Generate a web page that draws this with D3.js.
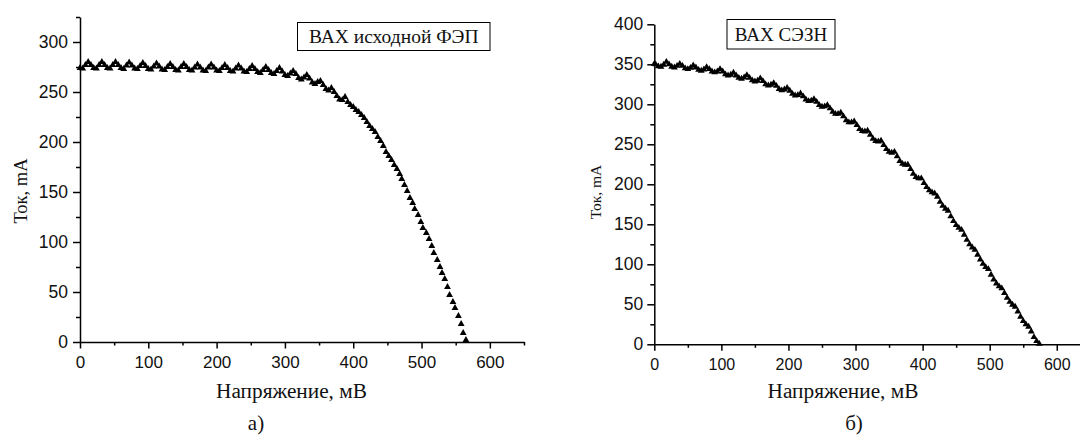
<!DOCTYPE html>
<html>
<head>
<meta charset="utf-8">
<script src="https://cdn.jsdelivr.net/npm/d3@7"></script>
<style>
  html, body { margin: 0; padding: 0; background: #fff; }
  svg { display: block; }
</style>
</head>
<body>
<svg id="chart" width="1080" height="437"></svg>
<script>
// ---- Data: I-V curves (voltage in mV, current in mA) ----
const leftVoltage = [
  0,4,8,12,16,20,24,28,32,36,40,44,48,52,56,60,64,68,72,76,80,84,88,92,96,
  100,104,108,112,116,120,124,128,132,136,140,144,148,152,156,160,164,168,172,176,180,184,188,192,196,
  200,204,208,212,216,220,224,228,232,236,240,244,248,252,256,260,264,268,272,276,280,284,288,292,296,
  300,304,308,312,316,320,324,328,332,336,340,344,348,352,356,360,364,368,372,376,380,384,388,
  392,396,400,404,408,412,416,420,424,428,432,436,440,444,448,452,456,460,464,468,
  471,475,479,483,487,490,495,499,502,507,511,515,518,523,527,530,534,538,541,546,549,554,558,561,565
];
const leftCurrent = [
  274,273.5,277,280,277, 274,273.5,277,280,277, 274,273.5,277,280,277,
  274,273,276.5,279.5,276.5, 273.5,273,276,279,276,
  273,272.5,275.5,278.5,275.5, 272.5,272,275,278,275, 272,271.5,275,278,275,
  272,271.5,274.5,277.5,274.5, 271.5,271,274.5,277.5,274.5,
  271.5,271,274,277,274, 271,270.5,273.5,276.5,273.5, 270.5,270,273,276,273,
  270,269,272,275,272, 269,268,271,274,270.5,
  267,266,268.5,271,268, 264,262.5,264.5,267,263.5, 259.5,258,260,261,257,
  253,251.5,254,250,246, 242.5,242,245,
  240,237,235,232,230,227,224,220,216,213,210,205,201,196,190,186,182,177,173,168,
  163,157,151,144,139,133,127,120,114,109,103,96,89,82,75,69,63,55,47,40,34,26,18,9,2
];

const rightVoltage = [
  0,2,6,10,14,18,22,26,30,34,38,42,46,50,54,58,62,66,70,74,78,82,86,90,94,98,
  102,106,110,114,118,122,126,130,134,138,142,146,150,154,158,162,166,170,174,178,182,186,190,194,198,
  202,206,210,214,218,222,226,230,234,238,242,246,250,254,258,262,266,270,274,278,282,286,290,294,298,
  302,306,310,314,318,322,326,330,334,338,342,346,350,354,358,362,366,370,374,378,382,386,390,394,398,
  402,406,410,414,418,422,426,430,434,438,442,446,450,454,458,462,466,470,474,478,482,486,490,494,498,
  502,506,510,514,518,522,526,530,534,538,542,546,550,554,558,562,566,570,574
];
const rightCurrent = [
  350.5,
  350,347.5,347,349.5,353, 350,347,346,348,350.5, 348,345,344,345.5,348.5,
  346,343,342,343.5,346.5, 344,341,340,341,344,
  341,337.5,336,337,339.5, 336,333,332,333.5,336.5, 333,330,328.5,329.5,332.5,
  329,325,323.5,324.5,326.5, 323,319,317.5,318.5,320.5,
  317,313,311,311.5,313.5, 310,306,304,304.5,306.5, 303,299,297,297.5,299,
  295,290.5,288,288,289.5, 285,280,277.5,277.5,278.5,
  274,269,266.5,266,267, 262,257,254,253.5,254.5, 249,244,240.5,239.5,240.5,
  235,229,225.5,224.5,224.5, 219,213,209,207.5,207.5,
  201.5,196.5,192.5,190,188.5, 184.5,178,173,169.5,167, 160,154,149,145.5,143,
  137,130.5,125,121,118, 112,106,100.5,96.5,94,
  87,81,76,72.5,70, 64,58,53,49.5,47, 41,34.5,29,25,22, 16,9,4,0.5
];

// ---- Axis ticks and texts ----
const xMajorTicks = [0, 100, 200, 300, 400, 500, 600];
const xMinorTicks = [50, 150, 250, 350, 450, 550, 650];
const leftYMajor = [0, 50, 100, 150, 200, 250, 300];
const leftYMinor = [25, 75, 125, 175, 225, 275, 325];
const rightYMajor = [0, 50, 100, 150, 200, 250, 300, 350, 400];
const rightYMinor = [25, 75, 125, 175, 225, 275, 325, 375];
const xTitle = "Напряжение, мВ";
const yTitle = "Ток, mA";
const leftLegend = "ВАХ исходной ФЭП";
const rightLegend = "ВАХ СЭЗН";
const panelLetters = ["а)", "б)"];

const SANS = "'Liberation Sans', Arial, Helvetica, sans-serif";
const SERIF = "'Liberation Serif', 'Times New Roman', serif";

const svg = d3.select("#chart");

function drawPanel(p) {
  const g = svg.append("g");
  const x = d3.scaleLinear().domain([0, 650]).range(p.xRange);
  const y = d3.scaleLinear().domain(p.yDomain).range(p.yRange);
  const x0 = x(0), y0 = y(0);

  // x axis: major ticks with labels, minor ticks without
  const gx = g.append("g").attr("transform", `translate(0,${y0})`)
    .call(d3.axisBottom(x).tickValues(xMajorTicks).tickSize(6.5).tickSizeOuter(0)
      .tickPadding(p.xTickPad).tickFormat(d3.format("d")));
  gx.selectAll("text").attr("font-family", SANS).attr("font-size", p.xTickFont).attr("fill", "#111");
  g.append("g").attr("transform", `translate(0,${y0})`)
    .call(d3.axisBottom(x).tickValues(xMinorTicks).tickSize(3.5).tickFormat(""))
    .call(s => s.select(".domain").remove());

  // y axis
  const gy = g.append("g").attr("transform", `translate(${x0},0)`)
    .call(d3.axisLeft(y).tickValues(p.yMajor).tickSize(7).tickSizeOuter(0)
      .tickPadding(p.yTickPad).tickFormat(d3.format("d")));
  gy.selectAll("text").attr("font-family", SANS).attr("font-size", p.yTickFont).attr("fill", "#111");
  g.append("g").attr("transform", `translate(${x0},0)`)
    .call(d3.axisLeft(y).tickValues(p.yMinor).tickSize(4).tickFormat(""))
    .call(s => s.select(".domain").remove());

  g.selectAll(".domain, .tick line").attr("stroke", "#000").attr("stroke-width", 1.5);

  // data markers: filled up-triangles
  const tri = d3.symbol().type(d3.symbolTriangle).size(20);
  g.append("g").selectAll("path")
    .data(d3.zip(p.volt, p.curr))
    .join("path")
    .attr("transform", d => `translate(${x(d[0])},${y(d[1])})`)
    .attr("d", tri)
    .attr("fill", "#000");

  // legend box
  g.append("rect")
    .attr("x", p.legend.x).attr("y", p.legend.y)
    .attr("width", p.legend.w).attr("height", p.legend.h)
    .attr("fill", "#fff").attr("stroke", "#000").attr("stroke-width", 1);
  g.append("text")
    .attr("x", p.legend.x + p.legend.w / 2).attr("y", p.legend.base)
    .attr("text-anchor", "middle").attr("font-family", SERIF)
    .attr("font-size", p.legend.font).attr("fill", "#111")
    .text(p.legend.text);

  // axis titles
  g.append("text")
    .attr("x", p.xTitleX).attr("y", 398)
    .attr("text-anchor", "middle").attr("font-family", SERIF)
    .attr("font-size", 21.3).attr("fill", "#111")
    .text(xTitle);
  g.append("text")
    .attr("transform", `translate(${p.yTitleX},${p.yTitleY}) rotate(-90)`)
    .attr("text-anchor", "middle").attr("font-family", SERIF)
    .attr("font-size", p.yTitleFont).attr("fill", "#111")
    .text(yTitle);

  // panel letter
  g.append("text")
    .attr("x", p.letterX).attr("y", 430)
    .attr("text-anchor", "middle").attr("font-family", SERIF)
    .attr("font-size", 21).attr("fill", "#111")
    .text(p.letter);
}

drawPanel({
  volt: leftVoltage, curr: leftCurrent,
  xRange: [80, 524], yDomain: [0, 325], yRange: [342, 17],
  yMajor: leftYMajor, yMinor: leftYMinor,
  xTickFont: 17, yTickFont: 17.5, xTickPad: 7, yTickPad: 5,
  legend: { x: 297.5, y: 22.5, w: 192.5, h: 28, base: 43.3, font: 19.5, text: leftLegend },
  xTitleX: 291.5, yTitleX: 27, yTitleY: 191, yTitleFont: 18.5,
  letterX: 256, letter: panelLetters[0]
});

drawPanel({
  volt: rightVoltage, curr: rightCurrent,
  xRange: [654.3, 1090.3], yDomain: [0, 400], yRange: [344.3, 24.3],
  yMajor: rightYMajor, yMinor: rightYMinor,
  xTickFont: 16, yTickFont: 17.5, xTickPad: 8, yTickPad: 4,
  legend: { x: 727, y: 19.5, w: 108, h: 29.5, base: 40.7, font: 19, text: rightLegend },
  xTitleX: 843, yTitleX: 601, yTitleY: 192, yTitleFont: 15.5,
  letterX: 854, letter: panelLetters[1]
});
</script>
</body>
</html>
